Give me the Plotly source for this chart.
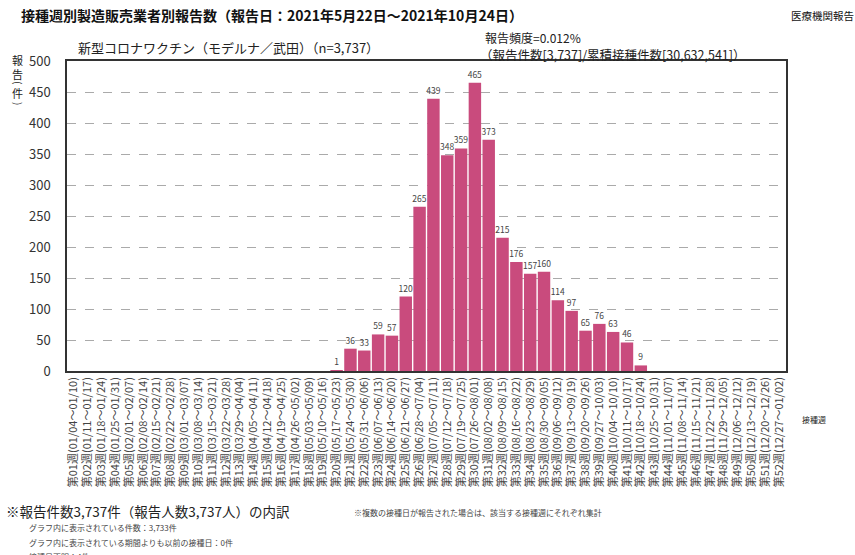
import plotly.graph_objects as go

# ---- data ----
week_nums = ["%02d" % i for i in range(1, 53)]
week_ranges = [
    "01/04～01/10", "01/11～01/17", "01/18～01/24", "01/25～01/31", "02/01～02/07",
    "02/08～02/14", "02/15～02/21", "02/22～02/28", "03/01～03/07", "03/08～03/14",
    "03/15～03/21", "03/22～03/28", "03/29～04/04", "04/05～04/11", "04/12～04/18",
    "04/19～04/25", "04/26～05/02", "05/03～05/09", "05/10～05/16", "05/17～05/23",
    "05/24～05/30", "05/31～06/06", "06/07～06/13", "06/14～06/20", "06/21～06/27",
    "06/28～07/04", "07/05～07/11", "07/12～07/18", "07/19～07/25", "07/26～08/01",
    "08/02～08/08", "08/09～08/15", "08/16～08/22", "08/23～08/29", "08/30～09/05",
    "09/06～09/12", "09/13～09/19", "09/20～09/26", "09/27～10/03", "10/04～10/10",
    "10/11～10/17", "10/18～10/24", "10/25～10/31", "11/01～11/07", "11/08～11/14",
    "11/15～11/21", "11/22～11/28", "11/29～12/05", "12/06～12/12", "12/13～12/19",
    "12/20～12/26", "12/27～01/02",
]
categories = ["第%s週(%s)" % (n, r) for n, r in zip(week_nums, week_ranges)]

reports = [0] * 19 + [
    1, 36, 33, 59, 57, 120, 265, 439, 348, 359, 465, 373,
    215, 176, 157, 160, 114, 97, 65, 76, 63, 46, 9,
] + [0] * 10

y_ticks = [0, 50, 100, 150, 200, 250, 300, 350, 400, 450, 500]

# ---- layout constants (pixels) ----
W, H = 855, 555
L, R, T, B = 67, 786, 61, 371
FONT = "Noto Sans CJK JP, Noto Sans, sans-serif"


def px(x):
    return (x - L) / (R - L)


def py(y):
    return (B - y) / (B - T)


bar_text = [str(v) if v > 0 else "" for v in reports]

fig = go.Figure(
    go.Bar(
        x=categories,
        y=reports,
        marker=dict(color="#C94B7D", line=dict(width=0)),
        text=bar_text,
        textposition="outside",
        textfont=dict(size=8.5, color="#444", family=FONT),
        constraintext="none",
        cliponaxis=False,
        hoverinfo="x+y",
    )
)

fig.update_layout(
    width=W,
    height=H,
    margin=dict(l=L, r=W - R, t=T, b=H - B, pad=0),
    paper_bgcolor="white",
    plot_bgcolor="white",
    bargap=0.1,
    showlegend=False,
    font=dict(family=FONT, color="#333"),
    xaxis=dict(
        type="category",
        tickmode="array",
        tickvals=categories,
        ticktext=categories,
        tickangle=-90,
        tickfont=dict(size=11, color="#444", family=FONT),
        showline=True,
        linecolor="#333",
        linewidth=1.5,
        mirror=True,
        ticks="",
        showgrid=False,
        automargin=False,
    ),
    yaxis=dict(
        range=[0, 500],
        tickvals=y_ticks,
        tickfont=dict(size=13, color="#333", family=FONT),
        showline=True,
        linecolor="#333",
        linewidth=1.5,
        mirror=True,
        ticks="",
        ticklabelstandoff=12,
        showgrid=True,
        gridcolor="#aaaaaa",
        griddash="dash",
        gridwidth=1,
        zeroline=False,
        automargin=False,
    ),
)

ann = []


def add(text, x, y, size, xanchor="left", yanchor="middle", bold=False,
        color="#222", angle=0):
    ann.append(dict(
        text=("<b>%s</b>" % text) if bold else text,
        x=px(x), y=py(y), xref="paper", yref="paper",
        xanchor=xanchor, yanchor=yanchor, showarrow=False, textangle=angle,
        font=dict(size=size, color=color, family=FONT), align="left",
    ))


add("接種週別製造販売業者別報告数（報告日：2021年5月22日～2021年10月24日）", 19, 15, 14, bold=True, color="#111")
add("医療機関報告", 789, 16, 10.5, color="#111")
add("新型コロナワクチン（モデルナ／武田）（n=3,737）", 76, 47, 13)
add("報告頻度=0.012%", 483, 38, 12)
add("（報告件数[3,737]/累積接種件数[30,632,541]）", 478, 54, 12.5)
add("報<br>告", 18, 67, 11, xanchor="center")
add("(", 18, 83, 10, xanchor="center", angle=90)
add("件", 18, 93, 11, xanchor="center")
add(")", 18, 104, 10, xanchor="center", angle=90)
add("接種週", 800, 420, 8)
add("※報告件数3,737件（報告人数3,737人）の内訳", 4, 511, 13.5)
add("※複数の接種日が報告された場合は、該当する接種週にそれぞれ集計", 352, 512, 8, color="#444")
add("グラフ内に表示されている件数：3,733件", 27, 527, 8, color="#444")
add("グラフ内に表示されている期間よりも以前の接種日：0件", 27, 542, 8, color="#444")
add("接種日不明：4件", 27, 556, 8, color="#444")

fig.update_layout(annotations=ann)

fig.write_html(
    "out.html",
    config={"displayModeBar": False},
    post_script="document.body.style.margin='0';document.body.style.padding='0';",
)
